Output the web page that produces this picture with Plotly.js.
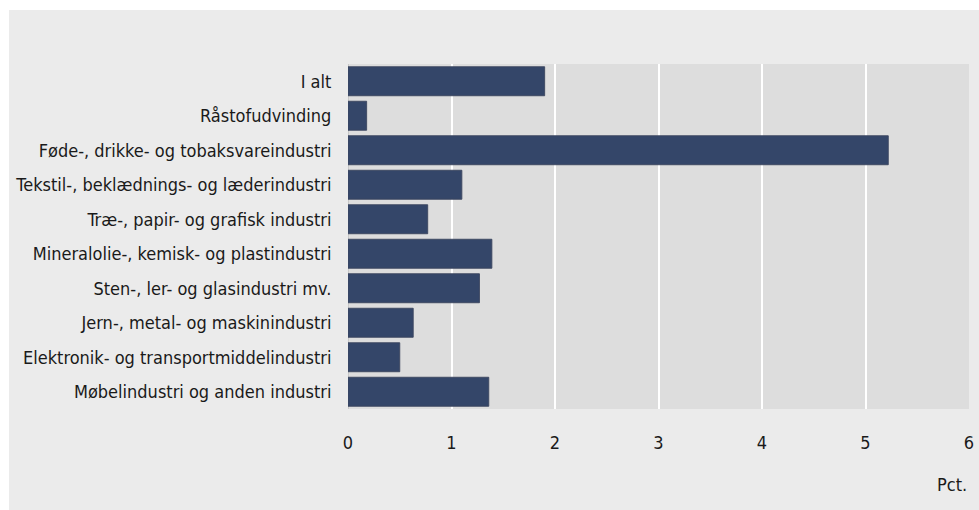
<!DOCTYPE html>
<html>
<head>
<meta charset="utf-8">
<script src="https://cdn.plot.ly/plotly-3.0.1.min.js"></script>
<style>
  html, body { margin: 0; padding: 0; background: #ffffff; width: 979px; height: 510px; overflow: hidden; }
  #chart { position: absolute; left: 9px; top: 10px; width: 970px; height: 500px; }
</style>
</head>
<body>
<div id="chart"></div>
<script>
const categories = [
  "I alt",
  "Råstofudvinding",
  "Føde-, drikke- og tobaksvareindustri",
  "Tekstil-, beklædnings- og læderindustri",
  "Træ-, papir- og grafisk industri",
  "Mineralolie-, kemisk- og plastindustri",
  "Sten-, ler- og glasindustri mv.",
  "Jern-, metal- og maskinindustri",
  "Elektronik- og transportmiddelindustri",
  "Møbelindustri og anden industri"
];
const values = [1.90, 0.18, 5.22, 1.10, 0.77, 1.39, 1.27, 0.63, 0.50, 1.36];
const xTicks = [0, 1, 2, 3, 4, 5, 6];
const unitLabel = "Pct.";

const fontFam = "'DejaVu Sans Condensed', 'Liberation Sans Narrow', Arial, sans-serif";

const trace = {
  type: "bar",
  orientation: "h",
  x: values,
  y: categories,
  marker: { color: "#344669", line: { color: "rgba(60,70,95,0.9)", width: 1 } },
  hoverinfo: "x+y"
};

const layout = {
  width: 970,
  height: 500,
  paper_bgcolor: "#ebebeb",
  plot_bgcolor: "#dddddd",
  margin: { l: 339, r: 10, t: 54, b: 101 },
  bargap: 0.16,
  showlegend: false,
  font: { family: fontFam, size: 18, color: "#1a1a1a" },
  xaxis: {
    range: [0, 6],
    tickvals: xTicks,
    ticktext: xTicks.map(String),
    showgrid: true,
    gridcolor: "#ffffff",
    gridwidth: 2,
    zeroline: true,
    zerolinecolor: "#c8c8c8",
    zerolinewidth: 1,
    showline: false,
    ticks: "outside",
    ticklen: 17,
    tickcolor: "rgba(0,0,0,0)",
    fixedrange: true
  },
  yaxis: {
    categoryorder: "array",
    categoryarray: categories,
    autorange: "reversed",
    showgrid: false,
    zeroline: false,
    showline: false,
    ticks: "outside",
    ticklen: 12,
    tickcolor: "rgba(0,0,0,0)",
    fixedrange: true
  },
  annotations: [{
    text: unitLabel,
    xref: "paper", yref: "paper",
    x: 1, y: -0.22,
    xanchor: "right", yanchor: "middle",
    showarrow: false,
    font: { family: fontFam, size: 18, color: "#1a1a1a" }
  }]
};

Plotly.newPlot("chart", [trace], layout, { displayModeBar: false, staticPlot: true });
</script>
</body>
</html>
